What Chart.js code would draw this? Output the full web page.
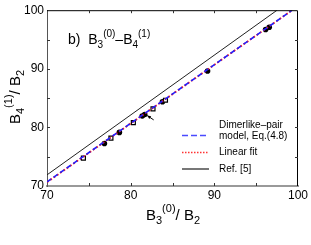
<!DOCTYPE html>
<html>
<head>
<meta charset="utf-8">
<script src="https://cdn.jsdelivr.net/npm/chart.js@4"></script>
<style>
  html, body { margin: 0; padding: 0; background: #fff; }
  #myChart { display: block; }
</style>
</head>
<body>
<canvas id="myChart" width="311" height="245"></canvas>
<script>
// values
var filledX = [76.86, 78.65, 81.38, 81.68, 83.80, 89.19, 96.13, 96.56];
var filledY = [77.26, 79.15, 81.94, 82.19, 84.38, 89.62, 96.70, 97.08];
var squareX = [74.35, 77.64, 80.32, 82.67, 84.16];
var squareY = [74.76, 78.18, 80.81, 83.15, 84.64];
var modelX = [70, 99.3];
var modelY = [70.7, 100];
var fitX = [70, 99.3];
var fitY = [70.65, 100];
var refX = [70, 97.5];
var refY = [71.9, 100];
var arrowX = [82.75, 81.98];
var arrowY = [81.28, 82.02];
var tickValues = [70, 80, 90, 100];
var legendLabels = [["Dimerlike\u2013pair", "model, Eq.(4.8)"], ["Linear fit"], ["Ref. [5]"]];

document.addEventListener("DOMContentLoaded", function(){

    var FONT = "'Liberation Sans', Arial, sans-serif";

    function toPoints(xs, ys) {
        var pts = [];
        for (var i = 0; i < xs.length; i++) {
            pts.push({x: xs[i], y: ys[i]});
        }
        return pts;
    }

    // draws text made of pieces (normal / sub / sup)
    function richWidth(ctx, parts) {
        var w = 0;
        for (var i = 0; i < parts.length; i++) {
            ctx.font = parts[i].size + "px " + FONT;
            w += ctx.measureText(parts[i].t).width;
        }
        return w;
    }
    function drawRich(ctx, parts, x, y) {
        var cx = x;
        for (var i = 0; i < parts.length; i++) {
            ctx.font = parts[i].size + "px " + FONT;
            ctx.fillText(parts[i].t, cx, y + (parts[i].dy || 0));
            cx += ctx.measureText(parts[i].t).width;
        }
    }

    /*********************************
     *     Extra drawing plugin      *
     ********************************/
    var extras = {
        id: 'extras',
        afterDatasetsDraw: function(chart) {
            var ctx = chart.ctx;
            var area = chart.chartArea;
            var xs = chart.scales.x, ys = chart.scales.y;
            ctx.save();

            // top and right frame
            ctx.strokeStyle = '#000';
            ctx.lineWidth = 1;
            ctx.beginPath();
            ctx.moveTo(area.left, area.top + 0.5);
            ctx.lineTo(area.right - 0.5, area.top + 0.5);
            ctx.lineTo(area.right - 0.5, area.bottom);
            ctx.stroke();

            // inward ticks every 5
            ctx.strokeStyle = '#333';
            for (var v = 75; v < 100; v += 5) {
                var len = 3;
                var px = Math.round(xs.getPixelForValue(v)) + 0.5;
                var py = Math.round(ys.getPixelForValue(v)) + 0.5;
                ctx.beginPath();
                ctx.moveTo(px, area.bottom); ctx.lineTo(px, area.bottom - len);
                ctx.moveTo(px, area.top); ctx.lineTo(px, area.top + len);
                ctx.moveTo(area.left, py); ctx.lineTo(area.left + len, py);
                ctx.moveTo(area.right, py); ctx.lineTo(area.right - len, py);
                ctx.stroke();
            }

            // arrow
            var ax0 = xs.getPixelForValue(arrowX[0]), ay0 = ys.getPixelForValue(arrowY[0]);
            var ax1 = xs.getPixelForValue(arrowX[1]), ay1 = ys.getPixelForValue(arrowY[1]);
            var ang = Math.atan2(ay1 - ay0, ax1 - ax0);
            ctx.strokeStyle = '#000';
            ctx.fillStyle = '#000';
            ctx.beginPath();
            ctx.moveTo(ax0, ay0); ctx.lineTo(ax1, ay1);
            ctx.stroke();
            ctx.beginPath();
            ctx.moveTo(ax1, ay1);
            ctx.lineTo(ax1 - 4 * Math.cos(ang - 0.45), ay1 - 4 * Math.sin(ang - 0.45));
            ctx.lineTo(ax1 - 4 * Math.cos(ang + 0.45), ay1 - 4 * Math.sin(ang + 0.45));
            ctx.closePath();
            ctx.fill();

            // panel label
            ctx.fillStyle = '#000';
            ctx.textBaseline = 'alphabetic';
            ctx.textAlign = 'left';
            drawRich(ctx, [
                {t: "b)  B", size: 14},
                {t: "3", size: 10, dy: 4},
                {t: "(0)", size: 10, dy: -7},
                {t: "\u2013B", size: 14},
                {t: "4", size: 10, dy: 4},
                {t: "(1)", size: 10, dy: -7}
            ], area.left + 21, area.top + 34);

            // legend
            var lx0 = 182, lx1 = 209, tx = 219;
            ctx.lineWidth = 1.5;
            ctx.strokeStyle = '#4a4aff';
            ctx.setLineDash([6, 3]);
            ctx.beginPath(); ctx.moveTo(lx0, 135.5); ctx.lineTo(lx1, 135.5); ctx.stroke();
            ctx.strokeStyle = '#ff3333';
            ctx.setLineDash([1.5, 1.5]);
            ctx.beginPath(); ctx.moveTo(lx0, 152.5); ctx.lineTo(lx1, 152.5); ctx.stroke();
            ctx.setLineDash([]);
            ctx.strokeStyle = '#777';
            ctx.lineWidth = 2;
            ctx.beginPath(); ctx.moveTo(lx0, 169); ctx.lineTo(lx1, 169); ctx.stroke();

            ctx.font = "10px " + FONT;
            ctx.textBaseline = 'middle';
            ctx.fillStyle = '#000';
            ctx.fillText(legendLabels[0][0], tx, 125);
            ctx.fillText(legendLabels[0][1], tx, 136);
            ctx.fillText(legendLabels[1][0], tx, 152);
            ctx.fillText(legendLabels[2][0], tx, 169);

            // x axis title
            ctx.textBaseline = 'alphabetic';
            var xt = [
                {t: "B", size: 15},
                {t: "3", size: 11, dy: 4},
                {t: "(0)", size: 11, dy: -8},
                {t: "/ B", size: 15},
                {t: "2", size: 11, dy: 4}
            ];
            drawRich(ctx, xt, 173 - richWidth(ctx, xt) / 2, 220);

            // y axis title (rotated)
            var yt = [
                {t: "B", size: 15},
                {t: "4", size: 11, dy: 4},
                {t: "(1)", size: 11, dy: -8},
                {t: "/ B", size: 15},
                {t: "2", size: 11, dy: 4}
            ];
            ctx.translate(20, 97);
            ctx.rotate(-Math.PI / 2);
            drawRich(ctx, yt, -richWidth(ctx, yt) / 2, 0);

            ctx.restore();
        }
    };

    /*********************************
     *          The chart            *
     ********************************/
    var tickFont = {family: FONT, size: 12};

    var config = {
        type: 'scatter',
        data: {
            datasets: [
                {
                    label: 'Ref. [5]',
                    data: toPoints(refX, refY),
                    showLine: true,
                    borderColor: '#222',
                    borderWidth: 1,
                    pointRadius: 0
                },
                {
                    label: 'Dimerlike-pair model',
                    data: toPoints(modelX, modelY),
                    showLine: true,
                    borderColor: '#2020ff',
                    borderWidth: 1.6,
                    borderDash: [5, 3],
                    pointRadius: 0
                },
                {
                    label: 'Linear fit',
                    data: toPoints(fitX, fitY),
                    showLine: true,
                    borderColor: '#ff1a1a',
                    borderWidth: 1.8,
                    borderDash: [2, 2],
                    pointRadius: 0
                },
                {
                    label: 'open',
                    data: toPoints(squareX, squareY),
                    pointStyle: 'rect',
                    pointRadius: 2.8,
                    backgroundColor: '#fff',
                    borderColor: '#000',
                    borderWidth: 1.2
                },
                {
                    label: 'filled',
                    data: toPoints(filledX, filledY),
                    pointStyle: 'circle',
                    pointRadius: 2.8,
                    backgroundColor: '#000',
                    borderColor: '#000',
                    borderWidth: 0
                }
            ]
        },
        options: {
            responsive: false,
            animation: false,
            devicePixelRatio: 1,
            layout: {padding: {top: 5, right: 13, left: 0, bottom: 0}},
            plugins: {
                legend: {display: false},
                tooltip: {enabled: false}
            },
            scales: {
                x: {
                    type: 'linear',
                    min: 70, max: 100,
                    afterBuildTicks: function(scale) {
                        scale.ticks = tickValues.map(function(v){ return {value: v}; });
                    },
                    afterFit: function(scale) { scale.height = 59; },
                    grid: {display: false, drawTicks: false},
                    border: {display: true, color: '#999', width: 2},
                    ticks: {color: '#000', font: tickFont, padding: 2, maxRotation: 0}
                },
                y: {
                    type: 'linear',
                    min: 70, max: 100,
                    afterBuildTicks: function(scale) {
                        scale.ticks = tickValues.map(function(v){ return {value: v}; });
                    },
                    afterFit: function(scale) { scale.width = 47; },
                    grid: {display: false, drawTicks: false},
                    border: {display: true, color: '#555', width: 1},
                    ticks: {color: '#000', font: tickFont, padding: 3}
                }
            }
        },
        plugins: [extras]
    };

    var myChart = new Chart(document.getElementById('myChart'), config);
});
</script>
</body>
</html>
